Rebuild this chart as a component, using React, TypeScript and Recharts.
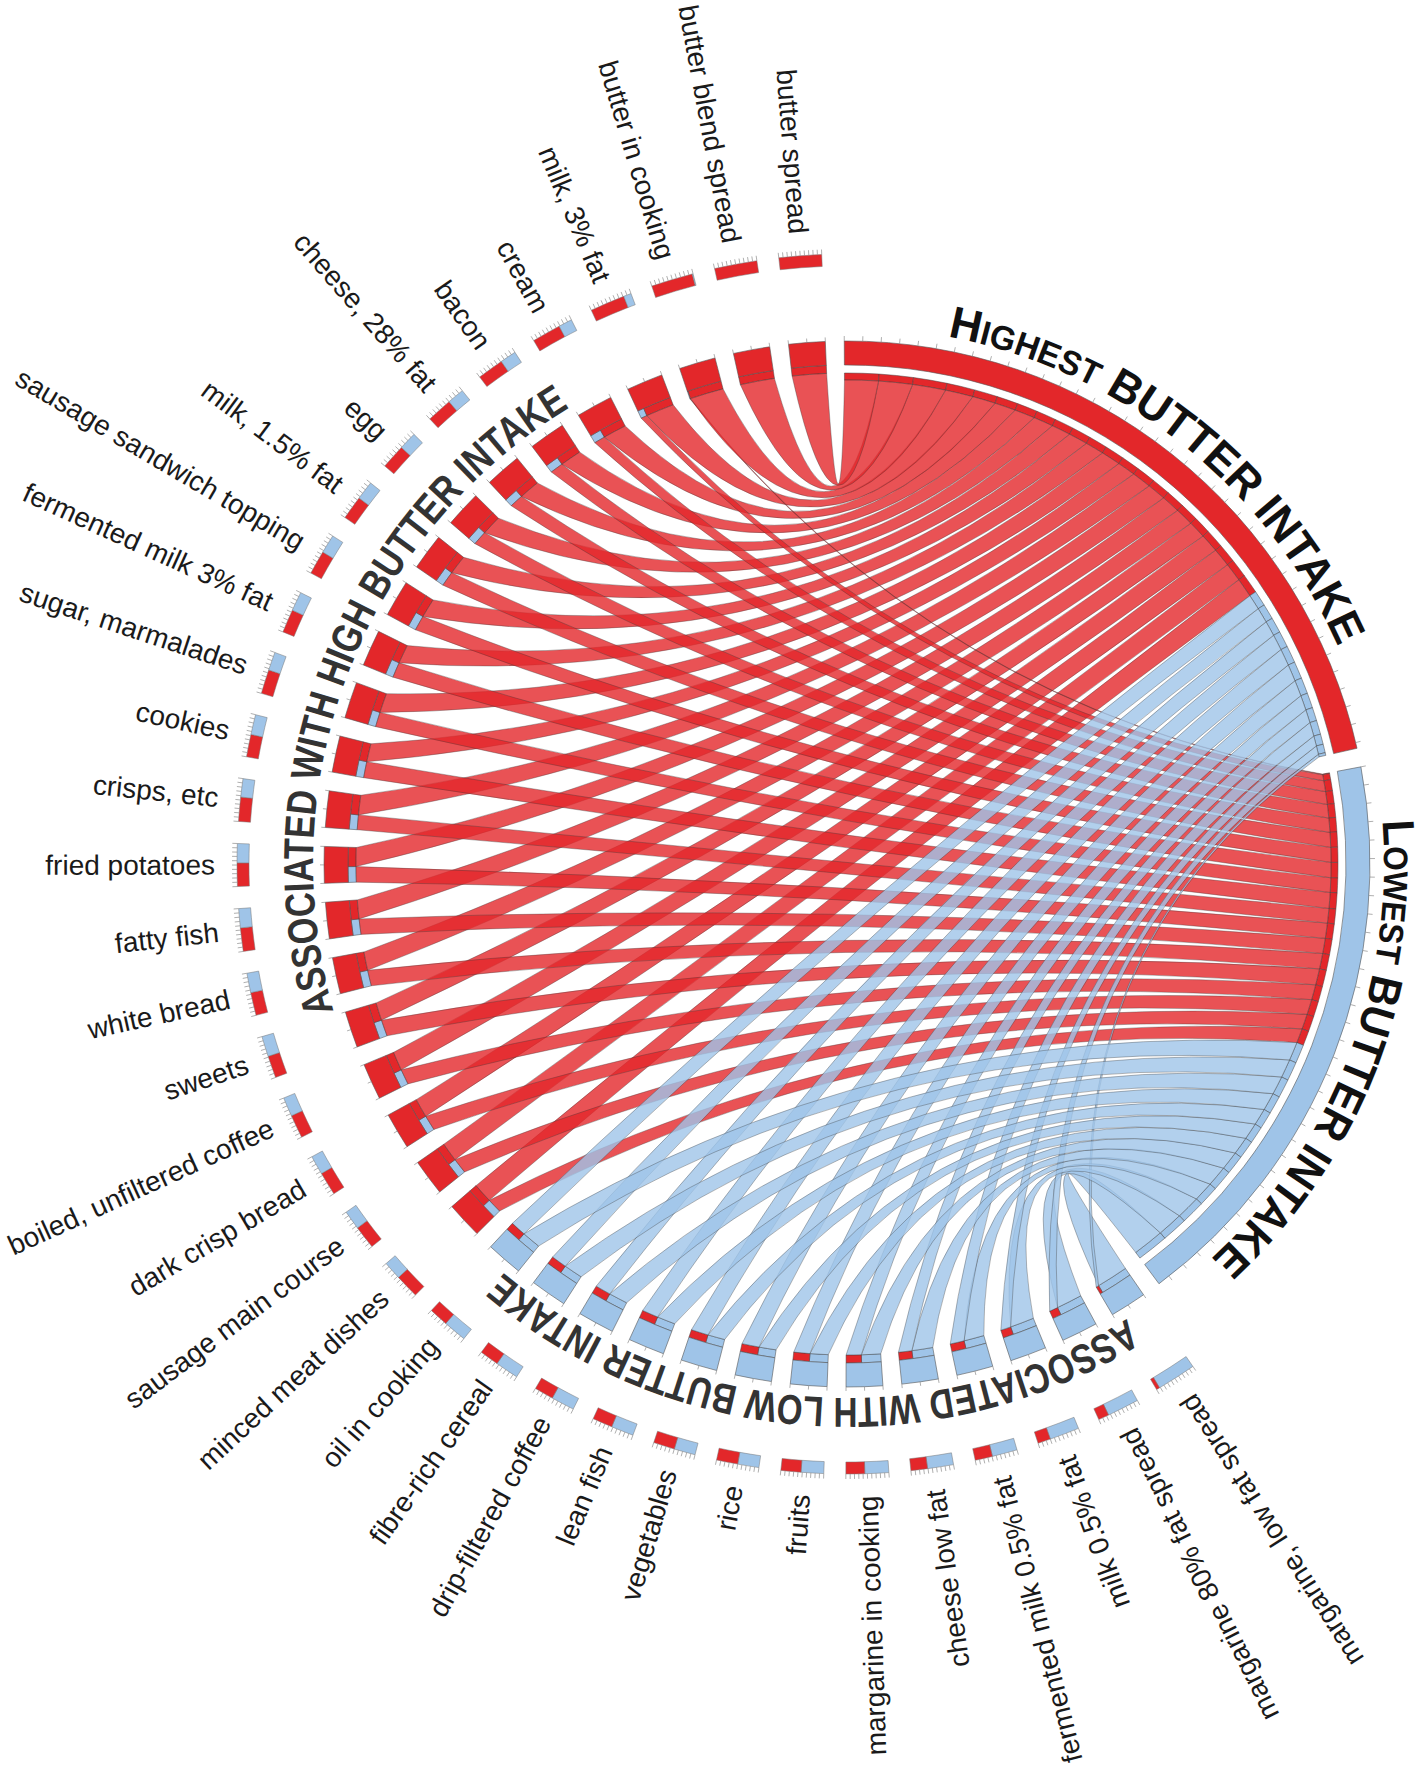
import React from 'react';
import { PieChart, Pie, Cell } from 'recharts';

// foods in clockwise order, starting right after the "lowest" arc
const lowFoods = [
  'margarine, low fat spread', 'margarine 80% fat spread', 'milk 0.5% fat', 'fermented milk 0.5% fat',
  'cheese low fat', 'margarine in cooking', 'fruits', 'rice', 'vegetables', 'lean fish',
  'drip-filtered coffee', 'fibre-rich cereal', 'oil in cooking',
];
// share of each food linked to the highest butter intake group
const lowShare = [0.08, 0.25, 0.3, 0.41, 0.39, 0.44, 0.47, 0.5, 0.5, 0.47, 0.45, 0.45, 0.45];

const highFoods = [
  'minced meat dishes', 'sausage main course', 'dark crisp bread', 'boiled, unfiltered coffee', 'sweets',
  'white bread', 'fatty fish', 'fried potatoes', 'crisps, etc', 'cookies', 'sugar, marmalades',
  'fermented milk 3% fat', 'sausage sandwich topping', 'milk, 1.5% fat', 'egg', 'cheese, 28% fat',
  'bacon', 'cream', 'milk, 3% fat', 'butter in cooking', 'butter blend spread', 'butter spread',
];
const highShare = [0.57, 0.55, 0.55, 0.55, 0.52, 0.54, 0.55, 0.55, 0.57, 0.53, 0.57, 0.55, 0.56, 0.56, 0.58, 0.6, 0.62, 0.68, 0.82, 0.98, 1.0, 1.0];

const groupTitles = [
  { big: 'H', small: 'IGHEST', rest: ' BUTTER INTAKE' },
  { big: 'L', small: 'OWEST', rest: ' BUTTER INTAKE' },
];
const sideTitles = ['ASSOCIATED WITH HIGH BUTTER INTAKE', 'ASSOCIATED WITH LOW BUTTER INTAKE'];

const RED = '#e3272a';
const BLUE = '#9fc4e8';
const CX = 847;
const CY = 864;
const START = 90.3;
const END = START - 360;
const GAP = 0.513;
const BEND = 0.56;
const FONT = '"Liberation Sans", Arial, sans-serif';

type Food = { name: string; share: number; grp: number };
type Slot = { v: number; kind: string; g?: number; f?: number; cum?: number; partnerCum?: number };

const foods: Food[] = [
  ...lowFoods.map((name, i) => ({ name, share: lowShare[i], grp: 1 })),
  ...highFoods.map((name, i) => ({ name, share: highShare[i], grp: 0 })),
];
const linkOrder = foods.map((_, i) => i).reverse();
const flowValue = (f: Food, g: number) => (g === 0 ? f.share : 1 - f.share);
const groupTotal = [0, 1].map((g) => foods.reduce((s, f) => s + flowValue(f, g), 0));

const gap = (): Slot => ({ v: GAP, kind: 'gap' });
function withCum(slots: Slot[]): Slot[] {
  let c = 0;
  return slots.map((s) => {
    const o = { ...s, cum: c };
    c += s.v;
    return o;
  });
}
const groupPads = (): Slot[] => [
  { v: groupTotal[0], kind: 'pad' }, gap(),
  { v: groupTotal[1], kind: 'pad' }, gap(),
];

const blockSlots = withCum([
  { v: groupTotal[0], kind: 'group', g: 0 }, gap(),
  { v: groupTotal[1], kind: 'group', g: 1 }, gap(),
  ...foods.flatMap((_, i) => [{ v: 1, kind: 'food', f: i }, gap()]),
]);

const flowRaw = withCum([
  ...linkOrder.map((i) => ({ v: flowValue(foods[i], 0), kind: 'gflow', g: 0, f: i })), gap(),
  ...linkOrder.map((i) => ({ v: flowValue(foods[i], 1), kind: 'gflow', g: 1, f: i })), gap(),
  ...foods.flatMap((f, i) => [
    { v: flowValue(f, 1), kind: 'fflow', g: 1, f: i },
    { v: flowValue(f, 0), kind: 'fflow', g: 0, f: i },
    gap(),
  ]),
]);
const flowSlots = flowRaw.map((s) =>
  s.kind === 'fflow'
    ? { ...s, partnerCum: flowRaw.find((o) => o.kind === 'gflow' && o.g === s.g && o.f === s.f)!.cum }
    : s,
);

const barSlots = withCum([
  ...groupPads(),
  ...foods.flatMap((f, i) => {
    const red = { v: f.share, kind: 'bar', g: 0, f: i };
    const blue = { v: 1 - f.share, kind: 'bar', g: 1, f: i };
    return f.grp === 0 ? [red, blue, gap()] : [blue, red, gap()];
  }),
]);

const spanSlots = withCum([
  ...groupPads(),
  { v: lowFoods.length + (lowFoods.length - 1) * GAP, kind: 'span', g: 1 }, gap(),
  { v: highFoods.length + (highFoods.length - 1) * GAP, kind: 'span', g: 0 }, gap(),
]);

const rad = (d: number) => (d * Math.PI) / 180;
const polar = (cx: number, cy: number, r: number, a: number): [number, number] => [
  cx + r * Math.sin(rad(a)),
  cy - r * Math.cos(rad(a)),
];
const fmt = (q: [number, number]) => `${q[0].toFixed(2)},${q[1].toFixed(2)}`;

function ribbonPath(cx: number, cy: number, rF: number, a1: number, a2: number, rG: number, b1: number, b2: number) {
  const A1 = polar(cx, cy, rF, a1);
  const A2 = polar(cx, cy, rF, a2);
  const B1 = polar(cx, cy, rG, b1);
  const B2 = polar(cx, cy, rG, b2);
  const ctrl = (P: number[], Q: number[]): [number, number] => [
    cx + BEND * ((P[0] + Q[0]) / 2 - cx),
    cy + BEND * ((P[1] + Q[1]) / 2 - cy),
  ];
  return `M${fmt(A1)}A${rF},${rF} 0 0 1 ${fmt(A2)}Q${fmt(ctrl(A2, B1))} ${fmt(B1)}` +
    `A${rG},${rG} 0 0 1 ${fmt(B2)}Q${fmt(ctrl(B2, A1))} ${fmt(A1)}Z`;
}

function tickLines(cx: number, cy: number, a1: number, a2: number, units: number, step: number, r0: number, r1: number) {
  const n = Math.floor(units / step + 1e-6);
  const out = [];
  for (let k = 0; k <= n; k++) {
    const a = a1 + ((a2 - a1) * k * step) / units;
    const p0 = polar(cx, cy, r0, a);
    const p1 = polar(cx, cy, r1, a);
    out.push(<line key={k} x1={p0[0]} y1={p0[1]} x2={p1[0]} y2={p1[1]} stroke="#8c8c8c" strokeWidth={0.7} />);
  }
  return out;
}

const circlePath = (cx: number, cy: number, r: number) =>
  `M ${cx} ${cy - r} A ${r} ${r} 0 1 1 ${cx} ${cy + r} A ${r} ${r} 0 1 1 ${cx} ${cy - r}`;

const ribbonLabel = (grp: number) => (props: any) => {
  const s: Slot = props.payload;
  if (!s || s.kind !== 'fflow' || foods[s.f!].grp !== grp || s.v <= 0) return <g />;
  const { cx, cy, startAngle, endAngle } = props;
  const perUnit = (startAngle - endAngle) / s.v;
  const pieStart = startAngle + s.cum! * perUnit;
  const pStart = pieStart - s.partnerCum! * perUnit;
  const pEnd = pStart - s.v * perUnit;
  const d = ribbonPath(cx, cy, 491, 90 - startAngle, 90 - endAngle, 484, 90 - pStart, 90 - pEnd);
  return (
    <path d={d} fill={grp === 0 ? RED : BLUE} fillOpacity={0.8} stroke="#3a3a3a" strokeWidth={0.5} strokeOpacity={0.7} />
  );
};

const blockLabel = (props: any) => {
  const s: Slot = props.payload;
  if (!s) return <g />;
  const { cx, cy, startAngle, endAngle } = props;
  const a1 = 90 - startAngle;
  const a2 = 90 - endAngle;
  const mid = (a1 + a2) / 2;
  if (s.kind === 'group') {
    const t = groupTitles[s.g!];
    const R = 537;
    const id = `title-arc-${s.g}`;
    const midN = ((mid % 360) + 360) % 360;
    return (
      <g>
        {tickLines(cx, cy, a1, a2, s.v, 0.5, 523, 528)}
        <defs>
          <path id={id} d={circlePath(cx, cy, R)} />
        </defs>
        <text fontFamily={FONT} fontWeight="bold" fill="#111" textAnchor="middle">
          <textPath href={`#${id}`} startOffset={(midN / 360) * 2 * Math.PI * R}
            textLength={s.g === 0 ? 519 : 487} lengthAdjust="spacingAndGlyphs">
            <tspan fontSize={45}>{t.big}</tspan>
            <tspan fontSize={34}>{t.small}</tspan>
            <tspan fontSize={45}>{t.rest}</tspan>
          </textPath>
        </text>
      </g>
    );
  }
  if (s.kind === 'food') {
    const food = foods[s.f!];
    const [x, y] = polar(cx, cy, 632, mid);
    return (
      <g>
        {tickLines(cx, cy, a1, a2, 1, 0.5, 523, 527)}
        {tickLines(cx, cy, a1, a2, 1, 0.1, 610, 615)}
        <text x={x} y={y} transform={`rotate(${mid - 270} ${x} ${y})`} textAnchor="end" dominantBaseline="central"
          fontFamily={FONT} fontSize={28} fill="#1a1a1a">
          {food.name}
        </text>
      </g>
    );
  }
  return <g />;
};

const spanLabel = (props: any) => {
  const s: Slot = props.payload;
  if (!s || s.kind !== 'span') return <g />;
  const { cx, cy, startAngle, endAngle } = props;
  const mid = 90 - (startAngle + endAngle) / 2;
  const midN = ((mid % 360) + 360) % 360;
  const R = 534;
  const id = `side-arc-${s.g}`;
  const sweep = s.g === 0 ? 74.7 : 71.8;
  return (
    <g>
      <defs>
        <path id={id} d={circlePath(cx, cy, R)} />
      </defs>
      <text fontFamily={FONT} fontWeight="bold" fontSize={42} fill="#333" textAnchor="middle">
        <textPath href={`#${id}`} startOffset={(midN / 360) * 2 * Math.PI * R}
          textLength={R * rad(sweep)} lengthAdjust="spacingAndGlyphs">
          {sideTitles[s.g!]}
        </textPath>
      </text>
    </g>
  );
};

const common = {
  dataKey: 'v',
  cx: CX,
  cy: CY,
  startAngle: START,
  endAngle: END,
  paddingAngle: 0,
  isAnimationActive: false,
  labelLine: false,
  stroke: 'none',
};

export default function App() {
  return (
    <div style={{ position: 'absolute', left: 0, top: 0, width: 1418, height: 1768, background: '#fff' }}>
      <PieChart width={1418} height={1768} margin={{ top: 0, right: 0, bottom: 0, left: 0 }}>
        {/* ribbons: red first, blue on top */}
        <Pie {...common} data={flowSlots} innerRadius={484} outerRadius={491} label={ribbonLabel(0)}>
          {flowSlots.map((_, i) => <Cell key={i} fill="none" stroke="none" />)}
        </Pie>
        <Pie {...common} data={flowSlots} innerRadius={484} outerRadius={491} label={ribbonLabel(1)}>
          {flowSlots.map((_, i) => <Cell key={i} fill="none" stroke="none" />)}
        </Pie>
        {/* thin target bands at the group arcs */}
        <Pie {...common} data={flowSlots} innerRadius={484} outerRadius={491} label={false}>
          {flowSlots.map((s, i) => (
            <Cell key={i}
              fill={s.kind === 'gflow' ? (foods[s.f!].grp === 0 ? RED : BLUE) : 'none'}
              stroke={s.kind === 'gflow' ? '#444' : 'none'} strokeWidth={0.5} />
          ))}
        </Pie>
        {/* thin target bands at the food sectors */}
        <Pie {...common} data={flowSlots} innerRadius={491} outerRadius={499} label={false}>
          {flowSlots.map((s, i) => (
            <Cell key={i}
              fill={s.kind === 'fflow' ? (s.g === 0 ? RED : BLUE) : 'none'}
              stroke={s.kind === 'fflow' ? '#444' : 'none'} strokeWidth={0.5} />
          ))}
        </Pie>
        {/* outer sector blocks */}
        <Pie {...common} data={blockSlots} innerRadius={499} outerRadius={523} label={blockLabel}>
          {blockSlots.map((s, i) => {
            const red = s.kind === 'group' ? s.g === 0 : s.kind === 'food' ? foods[s.f!].grp === 0 : false;
            const on = s.kind !== 'gap';
            return <Cell key={i} fill={on ? (red ? RED : BLUE) : 'none'} stroke={on ? '#555' : 'none'} strokeWidth={0.6} />;
          })}
        </Pie>
        {/* proportion bars outside */}
        <Pie {...common} data={barSlots} innerRadius={598} outerRadius={610} label={false}>
          {barSlots.map((s, i) => (
            <Cell key={i}
              fill={s.kind === 'bar' ? (s.g === 0 ? RED : BLUE) : 'none'}
              stroke={s.kind === 'bar' ? '#777' : 'none'} strokeWidth={0.5} />
          ))}
        </Pie>
        {/* side titles */}
        <Pie {...common} data={spanSlots} innerRadius={530} outerRadius={531} label={spanLabel}>
          {spanSlots.map((_, i) => <Cell key={i} fill="none" stroke="none" />)}
        </Pie>
      </PieChart>
    </div>
  );
}
